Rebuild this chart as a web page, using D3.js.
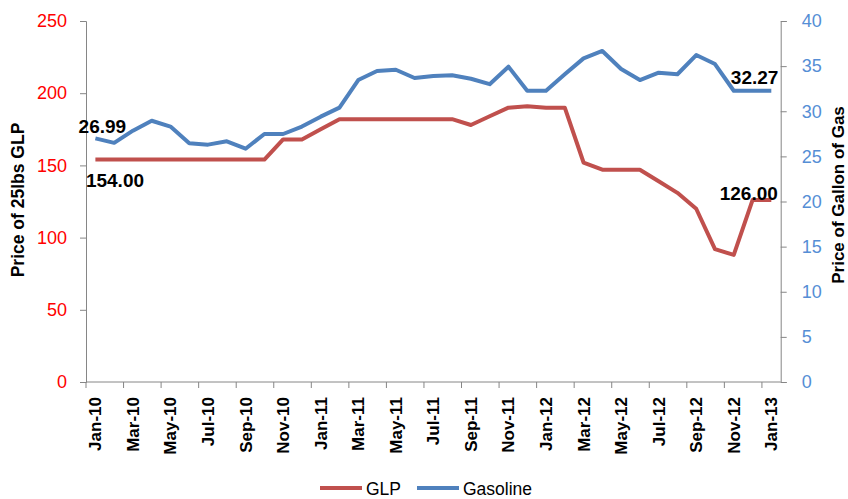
<!DOCTYPE html>
<html>
<head>
<meta charset="utf-8">
<script src="https://cdn.jsdelivr.net/npm/d3@7"></script>
<style>
  html, body { margin: 0; padding: 0; background: #fff; }
  svg { display: block; font-family: "Liberation Sans", Arial, sans-serif; }
</style>
</head>
<body>
<svg id="chart" width="848" height="499"></svg>
<script>
const months = ["Jan-10","Feb-10","Mar-10","Apr-10","May-10","Jun-10","Jul-10","Aug-10","Sep-10","Oct-10","Nov-10","Dec-10",
  "Jan-11","Feb-11","Mar-11","Apr-11","May-11","Jun-11","Jul-11","Aug-11","Sep-11","Oct-11","Nov-11","Dec-11",
  "Jan-12","Feb-12","Mar-12","Apr-12","May-12","Jun-12","Jul-12","Aug-12","Sep-12","Oct-12","Nov-12","Dec-12","Jan-13"];
const glp = [154,154,154,154,154,154,154,154,154,154,168,168,
  175,182,182,182,182,182,182,182,178,184,190,191,
  190,190,152,147,147,147,139,131,120,92,88,126,126];
const gasoline = [26.99,26.5,27.85,28.95,28.3,26.45,26.3,26.67,25.85,27.48,27.48,28.3,
  29.4,30.4,33.46,34.46,34.6,33.68,33.9,33.98,33.6,33.0,34.94,32.27,
  32.27,34.1,35.86,36.68,34.68,33.46,34.27,34.1,36.23,35.23,32.27,32.27,32.27];
const leftTicks = [0,50,100,150,200,250];
const rightTicks = [0,5,10,15,20,25,30,35,40];
const seriesNames = ["GLP","Gasoline"];
const colors = {GLP: "#C0504D", Gasoline: "#4F81BD"};

const svg = d3.select("#chart");
const L = 86, R = 780.7, T = 21, B = 382;
const x = d3.scaleBand().domain(months).range([L, R]).padding(0);
const bw = x.bandwidth();
const cx = m => x(m) + bw / 2;
const yL = d3.scaleLinear().domain([0, 250]).range([B, T]);
const yR = d3.scaleLinear().domain([0, 40]).range([B, T]);
const axisColor = "#868686";

// Left axis
const gl = svg.append("g").attr("transform", `translate(${L},0)`)
  .call(d3.axisLeft(yL).tickValues(leftTicks).tickSize(6).tickPadding(13));
gl.selectAll("path,line").attr("stroke", axisColor);
gl.selectAll("text").attr("fill", "#FF0000").style("font-size", "18px").style("font-family", "Liberation Sans, Arial, sans-serif");

// Right axis
const gr = svg.append("g").attr("transform", `translate(${R},0)`)
  .call(d3.axisRight(yR).tickValues(rightTicks).tickSize(6).tickPadding(15));
gr.selectAll("path,line").attr("stroke", axisColor);
gr.selectAll("text").attr("fill", "#558ED5").style("font-size", "18px").style("font-family", "Liberation Sans, Arial, sans-serif");

// Bottom axis
const evenMonths = months.filter((m, i) => i % 2 === 0);
const gb = svg.append("g").attr("transform", `translate(0,${B})`)
  .call(d3.axisBottom(x).tickValues(evenMonths).tickSize(6).tickSizeOuter(0));
gb.select("path").attr("stroke", axisColor).attr("d", `M${L},0H${R}`);
gb.selectAll(".tick line").attr("stroke", axisColor).attr("x1", -bw / 2).attr("x2", -bw / 2);
gb.selectAll(".tick text")
  .attr("fill", "#000")
  .style("font-size", "17px").style("font-weight", "bold")
  .style("font-family", "Liberation Sans, Arial, sans-serif")
  .attr("transform", "rotate(-90)")
  .attr("text-anchor", "end")
  .attr("x", -15).attr("y", 0).attr("dy", "0.35em");

// Lines
const lineL = d3.line().x((d, i) => cx(months[i])).y(d => yL(d));
const lineR = d3.line().x((d, i) => cx(months[i])).y(d => yR(d));
svg.append("path").datum(glp).attr("d", lineL).attr("fill", "none")
  .attr("stroke", colors.GLP).attr("stroke-width", 4).attr("stroke-linejoin", "round");
svg.append("path").datum(gasoline).attr("d", lineR).attr("fill", "none")
  .attr("stroke", colors.Gasoline).attr("stroke-width", 4).attr("stroke-linejoin", "round");

// Data labels
const last = months.length - 1;
const labels = [
  {m: 0, v: gasoline[0], y: yR, txt: gasoline[0].toFixed(2), dx: 7, dy: -5.5},
  {m: 0, v: glp[0], y: yL, txt: glp[0].toFixed(2), dx: 19.6, dy: 27},
  {m: last, v: gasoline[last], y: yR, txt: gasoline[last].toFixed(2), dx: -16.7, dy: -6.8},
  {m: last, v: glp[last], y: yL, txt: glp[last].toFixed(2), dx: -22.5, dy: 0}
];
svg.selectAll("text.dl").data(labels).join("text").attr("class", "dl")
  .attr("x", d => cx(months[d.m]) + d.dx)
  .attr("y", d => d.y(d.v) + d.dy)
  .attr("text-anchor", "middle")
  .style("font-size", "19px").style("font-weight", "bold").attr("fill", "#000")
  .text(d => d.txt);

// Axis titles
svg.append("text").attr("transform", "translate(24,200) rotate(-90)")
  .attr("text-anchor", "middle").style("font-size", "17.5px").style("font-weight", "bold")
  .text("Price of 25lbs GLP");
svg.append("text").attr("transform", "translate(844,195) rotate(-90)")
  .attr("text-anchor", "middle").style("font-size", "17px").style("font-weight", "bold")
  .text("Price of Gallon of Gas");

// Legend
const legendX = [320, 417];
const lg = svg.append("g");
seriesNames.forEach((s, i) => {
  lg.append("line").attr("x1", legendX[i]).attr("x2", legendX[i] + 42)
    .attr("y1", 488).attr("y2", 488).attr("stroke", colors[s]).attr("stroke-width", 4);
  lg.append("text").attr("x", legendX[i] + 46).attr("y", 494.5)
    .style("font-size", "17.5px").attr("fill", "#000").text(s);
});
</script>
</body>
</html>
